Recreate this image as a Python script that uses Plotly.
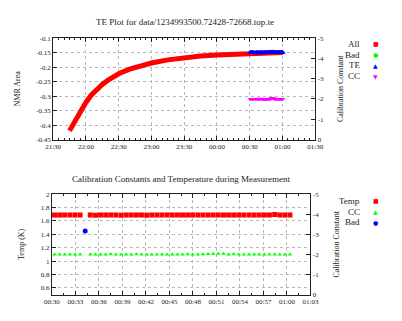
import plotly.graph_objects as go

# NMR area over the whole run (dense curve)
all_times = [
    "2009-02-18 21:45:00", "2009-02-18 21:48:00", "2009-02-18 21:51:00", "2009-02-18 21:54:00",
    "2009-02-18 21:57:00", "2009-02-18 22:00:00", "2009-02-18 22:05:00", "2009-02-18 22:10:00",
    "2009-02-18 22:15:00", "2009-02-18 22:20:00", "2009-02-18 22:25:00", "2009-02-18 22:30:00",
    "2009-02-18 22:40:00", "2009-02-18 22:50:00", "2009-02-18 23:00:00", "2009-02-18 23:15:00",
    "2009-02-18 23:30:00", "2009-02-18 23:45:00", "2009-02-19 00:00:00", "2009-02-19 00:15:00",
    "2009-02-19 00:30:00", "2009-02-19 00:45:00", "2009-02-19 01:00:00", "2009-02-19 01:00:23",
]
all_area = [
    -0.420, -0.400, -0.380, -0.358, -0.340, -0.322, -0.296, -0.277,
    -0.260, -0.246, -0.234, -0.223, -0.207, -0.196, -0.186, -0.175,
    -0.167, -0.162, -0.158, -0.155, -0.152, -0.151, -0.150, -0.150,
]

# TE measurements (one per ~40 s), the bad one is kept apart
te_clock = [
    "00:30:20", "00:30:59", "00:31:38", "00:32:18", "00:32:57", "00:33:36",
    "00:34:54", "00:35:34", "00:36:13", "00:36:52", "00:37:31", "00:38:10",
    "00:38:50", "00:39:29", "00:40:08", "00:40:47", "00:41:26", "00:42:06",
    "00:42:45", "00:43:24", "00:44:03", "00:44:42", "00:45:22", "00:46:01",
    "00:46:40", "00:47:19", "00:47:58", "00:48:38", "00:49:17", "00:49:56",
    "00:50:35", "00:51:14", "00:51:54", "00:52:33", "00:53:12", "00:53:51",
    "00:54:30", "00:55:10", "00:55:49", "00:56:28", "00:57:07", "00:57:46",
    "00:58:26", "00:59:05", "00:59:44", "01:00:23",
]
te_area = [
    -0.150, -0.150, -0.150, -0.149, -0.150, -0.150,
    -0.150, -0.151, -0.150, -0.150, -0.150, -0.150,
    -0.151, -0.150, -0.150, -0.150, -0.150, -0.151,
    -0.150, -0.150, -0.150, -0.150, -0.150, -0.150,
    -0.150, -0.150, -0.149, -0.149, -0.149, -0.149,
    -0.149, -0.148, -0.149, -0.149, -0.150, -0.150,
    -0.150, -0.150, -0.150, -0.150, -0.150, -0.150,
    -0.150, -0.150, -0.150, -0.150,
]
cc_values = [
    -2.00, -2.00, -2.00, -2.00, -2.00, -2.00,
    -2.00, -2.00, -2.00, -2.00, -2.01, -2.00,
    -2.00, -2.00, -2.00, -2.01, -2.00, -1.99,
    -1.99, -2.00, -1.99, -1.99, -2.00, -1.99,
    -2.00, -2.01, -2.00, -2.00, -2.01, -2.02,
    -2.03, -2.03, -2.03, -2.00, -2.01, -2.00,
    -2.00, -2.00, -2.00, -2.00, -2.00, -2.00,
    -2.00, -2.00, -2.00, -2.00,
]
temp_values = [
    1.69, 1.69, 1.69, 1.69, 1.69, 1.69,
    1.69, 1.685, 1.69, 1.69, 1.69, 1.69,
    1.685, 1.69, 1.69, 1.69, 1.69, 1.685,
    1.69, 1.69, 1.69, 1.69, 1.69, 1.69,
    1.69, 1.69, 1.69, 1.69, 1.69, 1.69,
    1.69, 1.69, 1.69, 1.69, 1.69, 1.69,
    1.69, 1.69, 1.69, 1.69, 1.69, 1.69,
    1.695, 1.69, 1.69, 1.69,
]
bad_clock = ["00:34:15"]
bad_temp = [1.45]

day2 = "2009-02-19 "
te_times = [day2 + t for t in te_clock]
bad_times = [day2 + t for t in bad_clock]

area_ticks = [-0.45, -0.4, -0.35, -0.3, -0.25, -0.2, -0.15, -0.1]
area_labels = ["-0.45", "-0.4", "-0.35", "-0.3", "-0.25", "-0.2", "-0.15", "-0.1"]
temp_ticks = [0.6, 0.8, 1.0, 1.2, 1.4, 1.6, 1.8, 2.0]
temp_labels = ["0.6", "0.8", "1", "1.2", "1.4", "1.6", "1.8", "2"]
cc_ticks = [-5, -4, -3, -2, -1, 0]
cc_labels = ["-5", "-4", "-3", "-2", "-1", "0"]

# gnuplot-style keys: label, glyph, colour
top_key = [("All", "\u25a0", "#ff0000"), ("Bad", "\u25cf", "#00ff00"),
           ("TE", "\u25b2", "#0000ff"), ("CC", "\u25bc", "#ff00ff")]
bottom_key = [("Temp", "\u25a0", "#ff0000"), ("CC", "\u25b2", "#00ff00"),
              ("Bad", "\u25cf", "#0000ff")]

FONT = "Liberation Serif"
INK = "#222222"
GRID = "#b8b8b8"
W, H = 402, 321

fig = go.Figure()

# top panel
fig.add_trace(go.Scatter(x=all_times, y=all_area, mode="lines", name="All",
                         line=dict(color="#ff0000", width=5),
                         xaxis="x", yaxis="y"))
fig.add_trace(go.Scatter(x=te_times, y=te_area, mode="markers", name="TE",
                         marker=dict(symbol="triangle-up", color="#0000ff", size=5),
                         xaxis="x", yaxis="y"))
fig.add_trace(go.Scatter(x=te_times, y=cc_values, mode="markers", name="CC",
                         marker=dict(symbol="triangle-down", color="#ff00ff", size=4),
                         xaxis="x", yaxis="y2"))

# bottom panel
fig.add_trace(go.Scatter(x=te_times, y=temp_values, mode="markers", name="Temp",
                         marker=dict(symbol="square", color="#ff0000", size=5),
                         xaxis="x2", yaxis="y3"))
fig.add_trace(go.Scatter(x=te_times, y=cc_values, mode="markers", name="CC",
                         marker=dict(symbol="triangle-up", color="#00ff00", size=4),
                         xaxis="x2", yaxis="y4"))
fig.add_trace(go.Scatter(x=bad_times, y=bad_temp, mode="markers", name="Bad",
                         marker=dict(symbol="circle", color="#0000ff", size=5),
                         xaxis="x2", yaxis="y3"))

axis_common = dict(showline=True, linecolor=INK, linewidth=1, ticks="inside",
                   ticklen=4, tickcolor=INK, tickfont=dict(size=7, color=INK),
                   zeroline=False)

annotations = [
    dict(text="TE Plot for data/1234993500.72428-72668.top.te", x=184 / W,
         y=1 - 18 / H, font=dict(size=9)),
    dict(text="Calibration Constants and Temperature during Measurement",
         x=180 / W, y=1 - 179 / H, font=dict(size=9)),
]
for keys, top in ((top_key, 41), (bottom_key, 202)):
    for i, (label, glyph, colour) in enumerate(keys):
        yy = 1 - (top + 11 * i) / H
        annotations.append(dict(text=label, x=368 / W, y=yy, xanchor="right",
                                font=dict(size=9)))
        annotations.append(dict(text=glyph, x=383 / W, y=yy,
                                font=dict(size=6, family="DejaVu Sans", color=colour)))
for a in annotations:
    a.setdefault("xanchor", "center")
    a.update(xref="paper", yref="paper", yanchor="middle", showarrow=False,
             borderpad=0)

fig.update_layout(
    width=W, height=H,
    margin=dict(l=0, r=0, t=0, b=0),
    paper_bgcolor="white", plot_bgcolor="white",
    font=dict(family=FONT, color=INK),
    showlegend=False,
    hovermode=False,
    xaxis=dict(domain=[47 / W, 320 / W], anchor="y", type="date",
               range=["2009-02-18 21:30", "2009-02-19 01:30"],
               dtick=1800000, tickformat="%H:%M", mirror="ticks",
               showgrid=True, gridcolor=GRID, griddash="dot",
               minor=dict(dtick=300000, ticks="inside", ticklen=2, tickcolor=INK),
               **axis_common),
    yaxis=dict(domain=[1 - 139 / H, 1 - 35 / H], anchor="x", range=[-0.45, -0.1],
               tickvals=area_ticks, ticktext=area_labels, mirror=True,
               showgrid=True, gridcolor=GRID, griddash="dot",
               title=dict(text="NMR Area", font=dict(size=8), standoff=14),
               **axis_common),
    yaxis2=dict(overlaying="y", side="right", anchor="x", range=[0, -5],
                tickvals=cc_ticks, ticktext=cc_labels, showgrid=False,
                title=dict(text="Calibration Constant", font=dict(size=8), standoff=14),
                **axis_common),
    xaxis2=dict(domain=[45.7 / W, 315 / W], anchor="y3", type="date",
                range=["2009-02-19 00:30", "2009-02-19 01:03"],
                dtick=180000, tickformat="%H:%M", mirror="ticks",
                showgrid=True, gridcolor=GRID, griddash="dot",
                minor=dict(dtick=90000, ticks="inside", ticklen=2, tickcolor=INK),
                **axis_common),
    yaxis3=dict(domain=[1 - 298 / H, 1 - 195 / H], anchor="x2", range=[0.5, 2.0],
                tickvals=temp_ticks, ticktext=temp_labels, mirror=True,
                showgrid=True, gridcolor=GRID, griddash="dot",
                title=dict(text="Temp (K)", font=dict(size=8), standoff=14),
                **axis_common),
    yaxis4=dict(overlaying="y3", side="right", anchor="x2", range=[0, -5],
                tickvals=cc_ticks, ticktext=cc_labels, showgrid=False,
                title=dict(text="Calibration Constant", font=dict(size=8), standoff=15),
                **axis_common),
    annotations=annotations,
)

fig.write_html("out.html", config={"displayModeBar": False},
               post_script="document.body.style.margin='0';"
                           "document.body.style.overflow='hidden';")
